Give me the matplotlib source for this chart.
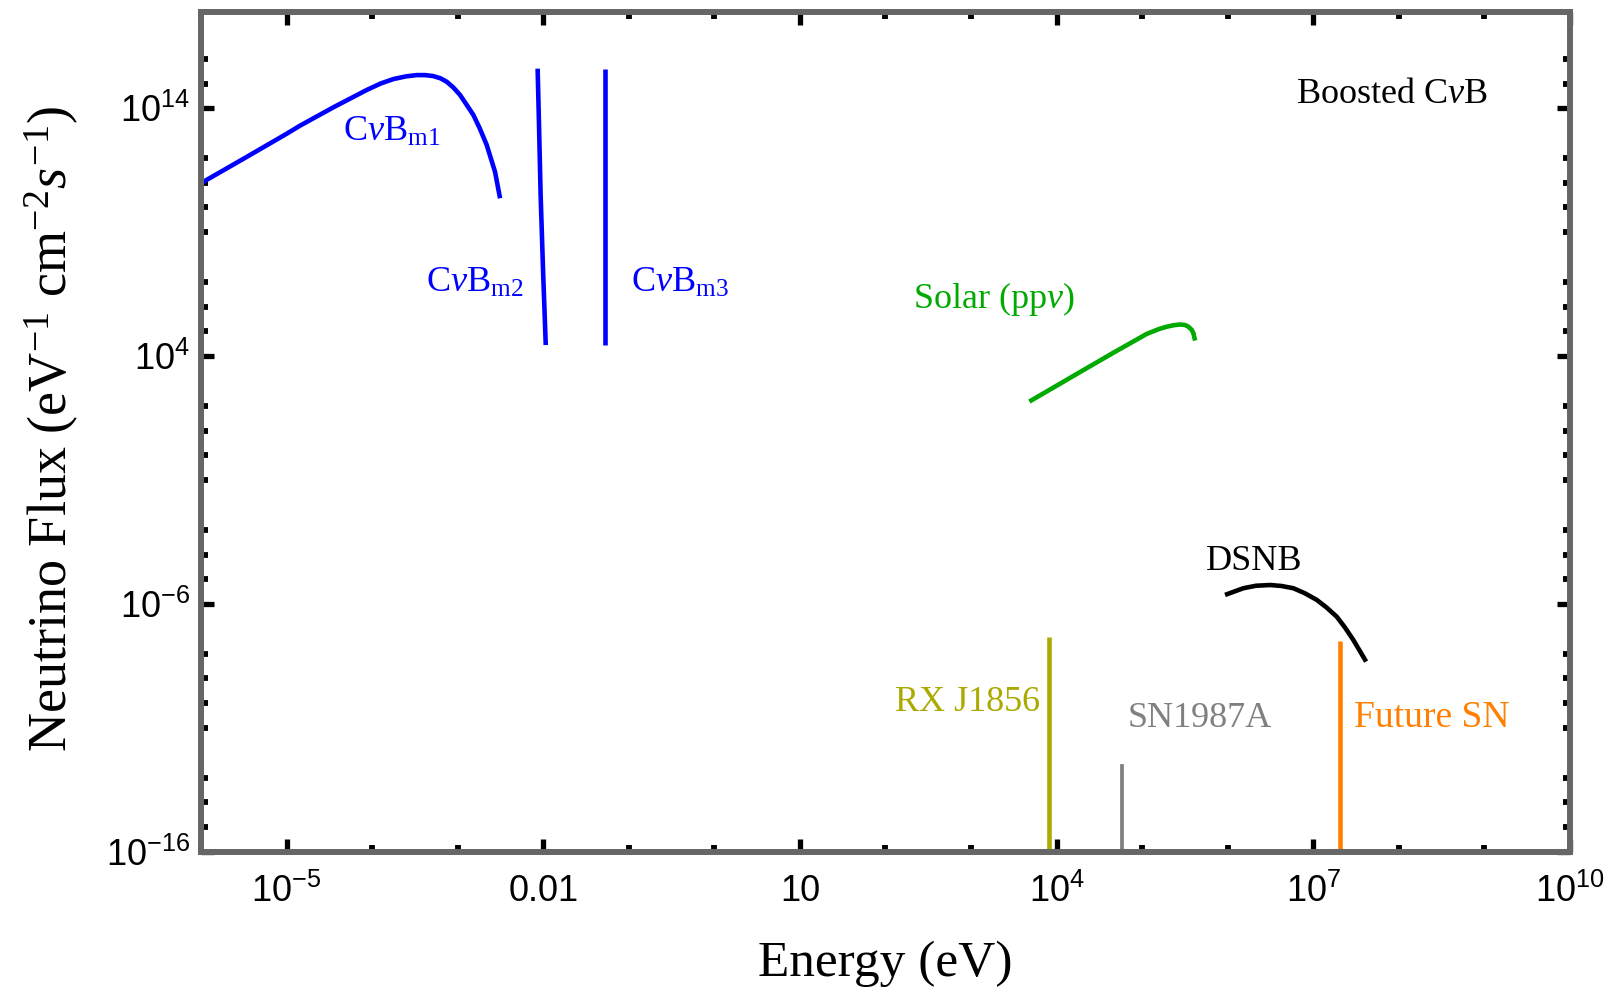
# -*- coding: utf-8 -*-
# neutrino flux vs energy, log-log

import matplotlib
matplotlib.use("Agg")
import matplotlib.pyplot as plt
from matplotlib.ticker import FixedLocator, NullFormatter
import numpy as np

plt.rcParams['font.family'] = ['Liberation Serif', 'DejaVu Serif']
plt.rcParams['mathtext.fontset'] = 'custom'
plt.rcParams['mathtext.rm'] = 'Liberation Serif'
plt.rcParams['mathtext.it'] = 'Liberation Serif:italic'
plt.rcParams['mathtext.sf'] = 'Liberation Sans'

# --- data (log10 of energy in eV, log10 of flux) ---
m1_logE = [-6.0, -5.5, -5.0, -4.842, -4.452, -4.062, -3.9, -3.751, -3.6, -3.478, -3.38, -3.284,
           -3.2, -3.127, -3.05, -2.972, -2.9, -2.816, -2.74, -2.66, -2.563, -2.504]
m1_logF = [10.98, 11.97, 12.97, 13.30, 14.04, 14.74, 15.0, 15.18, 15.29, 15.34, 15.34, 15.30,
           15.21, 15.07, 14.84, 14.54, 14.17, 13.73, 13.18, 12.52, 11.44, 10.37]

m2_logE = [-2.065, -2.05, -2.03, -2.0, -1.97]
m2_logF = [15.6, 13.5, 10.5, 7.3, 4.45]

m3_logE = [-1.283, -1.283]
m3_logF = [15.6, 4.45]

solar_logE = [3.682, 4.274, 4.664, 5.054, 5.2, 5.288, 5.37, 5.444, 5.5, 5.541, 5.58, 5.6, 5.619]
solar_logF = [2.17, 3.36, 4.14, 4.90, 5.1, 5.19, 5.25, 5.28, 5.26, 5.19, 5.06, 4.92, 4.63]

dsnb_logE = [5.969, 6.183, 6.33, 6.495, 6.63, 6.768, 6.9, 7.041, 7.16, 7.275, 7.37, 7.469, 7.618]
dsnb_logF = [-5.63, -5.36, -5.26, -5.23, -5.27, -5.36, -5.56, -5.83, -6.15, -6.51, -6.94, -7.45, -8.32]

rxj_logE = [3.909, 3.909]
rxj_logF = [-16.0, -7.31]

sn87_logE = [4.77, 4.77]
sn87_logF = [-16.0, -12.53]

futsn_logE = [7.31, 7.31]
futsn_logF = [-16.0, -7.47]

xtick_vals = [1e-5, 1e-2, 1e1, 1e4, 1e7, 1e10]
xtick_labels = [r'$\mathsf{10^{-5}}$', '0.01', '10', r'$\mathsf{10^{4}}$', r'$\mathsf{10^{7}}$', r'$\mathsf{10^{10}}$']
ytick_vals = [1e-16, 1e-6, 1e4, 1e14]
ytick_labels = [r'$\mathsf{10^{-16}}$', r'$\mathsf{10^{-6}}$', r'$\mathsf{10^{4}}$', r'$\mathsf{10^{14}}$']

BLUE = '#0000ff'
GREEN = '#00aa00'
OLIVE = '#aaaa00'
GRAY = '#808080'
ORANGE = '#ff8000'


def L(a):
    return 10.0 ** np.asarray(a)


fig = plt.figure(figsize=(16.14, 9.90), dpi=100)
ax = fig.add_axes([0.1245, 0.1394, 0.9727 - 0.1245, 0.988 - 0.1394])
ax.set_xscale('log')
ax.set_yscale('log')

lw = 3.3
kw = dict(lw=lw, solid_joinstyle='round', solid_capstyle='butt')
ax.plot(L(m1_logE), L(m1_logF), color=BLUE, **kw)
ax.plot(L(m2_logE), L(m2_logF), color=BLUE, **kw)
ax.plot(L(m3_logE), L(m3_logF), color=BLUE, **kw)
ax.plot(L(solar_logE), L(solar_logF), color=GREEN, **kw)
ax.plot(L(dsnb_logE), L(dsnb_logF), color='black', **kw)
ax.plot(L(rxj_logE), L(rxj_logF), color=OLIVE, **kw)
ax.plot(L(sn87_logE), L(sn87_logF), color=GRAY, lw=2.7)
ax.plot(L(futsn_logE), L(futsn_logF), color=ORANGE, **kw)

fs = 26
ax.text(L(7.92), L(14.54), r'Boosted C$\nu$B', color='black', fontsize=fs, ha='center', va='center')
ax.text(L(-3.77), L(13.05), r'C$\nu$B$_{\rm m1}$', color=BLUE, fontsize=fs, ha='center', va='center')
ax.text(L(-2.80), L(6.92), r'C$\nu$B$_{\rm m2}$', color=BLUE, fontsize=fs, ha='center', va='center')
ax.text(L(-0.40), L(6.92), r'C$\nu$B$_{\rm m3}$', color=BLUE, fontsize=fs, ha='center', va='center')
ax.text(L(3.27), L(6.30), r'Solar (pp$\nu$)', color=GREEN, fontsize=fs, ha='center', va='center')
ax.text(L(6.31), L(-4.3), 'DSNB', color='black', fontsize=fs, ha='center', va='center')
ax.text(L(2.965), L(-9.98), 'RX J1856', color=OLIVE, fontsize=fs, ha='center', va='center')
ax.text(L(5.67), L(-10.6), 'SN1987A', color=GRAY, fontsize=fs, ha='center', va='center')
ax.text(L(8.39), L(-10.6), 'Future SN', color=ORANGE, fontsize=27, ha='center', va='center')

ax.set_xlim(1e-6, 1e10)
ax.set_ylim(1e-16, 10 ** 17.89)

# ticks
ax.xaxis.set_major_locator(FixedLocator(xtick_vals))
ax.yaxis.set_major_locator(FixedLocator(ytick_vals))
xminor = [10.0 ** e for e in range(-6, 11) if e % 3 != 1]
ymajor_exp = [-16, -6, 4, 14]
yskip = [-12, -7, -2, 3, 8, 13, 17]
yminor = [10.0 ** e for e in range(-16, 18) if e not in ymajor_exp and e not in yskip]
ax.xaxis.set_minor_locator(FixedLocator(xminor))
ax.yaxis.set_minor_locator(FixedLocator(yminor))
ax.xaxis.set_minor_formatter(NullFormatter())
ax.yaxis.set_minor_formatter(NullFormatter())
ax.set_xticklabels(xtick_labels, fontfamily='Liberation Sans', fontsize=26)
ax.set_yticklabels(ytick_labels, fontfamily='Liberation Sans', fontsize=26)

ax.tick_params(which='both', direction='in', top=True, right=True, color='black')
ax.tick_params(which='major', length=9.5, width=3.8)
ax.tick_params(which='minor', length=5, width=4.2)
ax.tick_params(axis='x', which='major', pad=16)
ax.tick_params(axis='y', which='major', pad=8)

for s in ax.spines.values():
    s.set_color('#666666')
    s.set_linewidth(4.3)

fig.text(885 / 1614, 0.027, 'Energy (eV)', fontsize=37, ha='center', va='center')
fig.text(0.032, 0.567, r'Neutrino Flux (eV$^{-1}$ cm$^{-2}$$s^{-1}$)', fontsize=39,
         rotation=90, ha='center', va='center')

fig.savefig('out.png', dpi=100)
plt.close(fig)
